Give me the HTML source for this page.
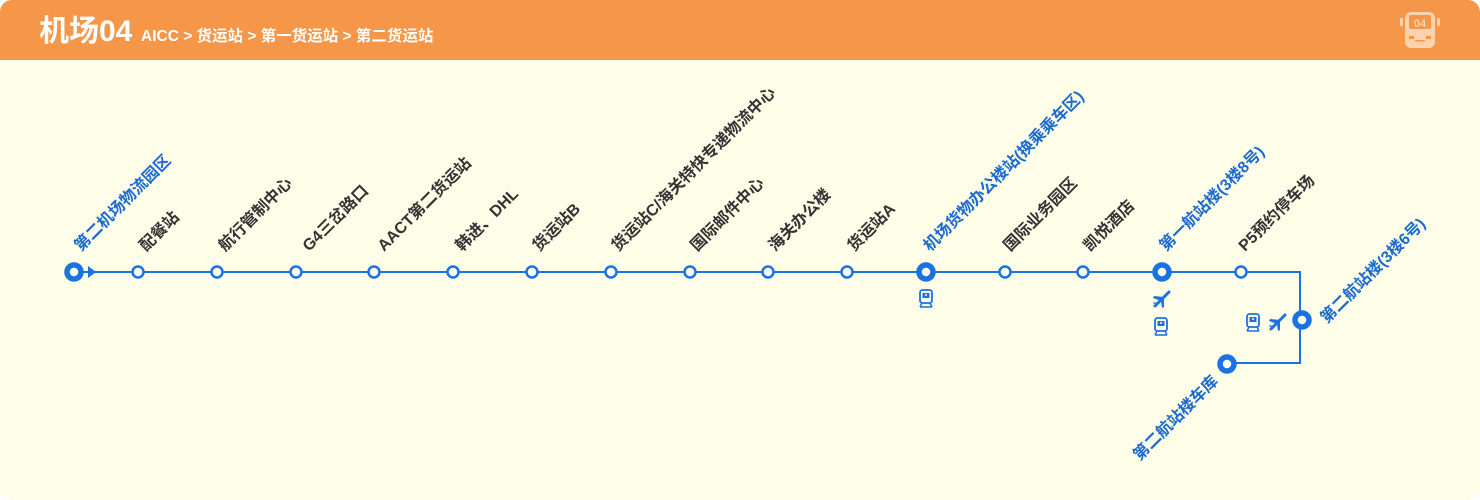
<!DOCTYPE html>
<html><head><meta charset="utf-8"><style>
body{margin:0;background:#fff;}
svg{display:block;font-family:"Liberation Sans","Noto Sans CJK SC",sans-serif;}
</style></head><body>
<svg width="1480" height="500" viewBox="0 0 1480 500" xmlns="http://www.w3.org/2000/svg">
<defs>
<g id="train"><rect x="-6" y="-8" width="12" height="13" rx="2.5" fill="none" stroke="#1a73e0" stroke-width="1.8"/><rect x="-3.5" y="-5" width="7" height="5" fill="#1a73e0"/><circle cx="0" cy="-3" r="1" fill="#fff"/><path d="M-6 9 L6 9 M-4 5 L-6 9 M4 5 L6 9" stroke="#1a73e0" stroke-width="1.5" fill="none"/></g>
<g id="plane"><path d="M7 -7 L-7 7" stroke="#1a73e0" stroke-width="3" stroke-linecap="round"/><path d="M2 -2 L-8 -3 L-9 -1 L-1 2 Z M-1 2 L0 9 L2 8 L2 -2 Z M-5 4 L-9 3 L-8 5 Z" fill="#1a73e0"/></g>
</defs>
<rect width="1480" height="500" rx="12" fill="#fefde8"/>
<path d="M0 60 V12 A12 12 0 0 1 12 0 H1468 A12 12 0 0 1 1480 12 V60 Z" fill="#f69649"/>
<text x="39" y="41" font-size="30" font-weight="bold" fill="#fff">机场04</text>
<text x="141" y="41" font-size="15.5" font-weight="bold" fill="#fff">AICC &gt; 货运站 &gt; 第一货运站 &gt; 第二货运站</text>
<g fill="#fcd3ae">
<rect x="1405" y="12" width="30" height="36" rx="6" fill="#fcd3ae"/>
<rect x="1409" y="15" width="22" height="14" rx="2" fill="#f69649"/>
<text x="1420" y="27" font-size="11" font-weight="bold" fill="#fcd3ae" text-anchor="middle">04</text>
<rect x="1400" y="18" width="3" height="8" rx="1"/><rect x="1437" y="18" width="3" height="8" rx="1"/>
<rect x="1409" y="36" width="5" height="3" fill="#f69649"/><rect x="1426" y="36" width="5" height="3" fill="#f69649"/><rect x="1415" y="40" width="10" height="1.5" fill="#f69649"/>
</g>
<g stroke="#1a73e0" stroke-width="2" fill="none">
<path d="M74 272 H1300 V363 H1227"/>
</g>
<path d="M88 266 L96 272 L88 278 Z" fill="#1a73e0"/>
<g fill="#fff" stroke="#1a73e0">
<g stroke-width="2.5">
<circle cx="138" cy="272" r="5.5"/><circle cx="217" cy="272" r="5.5"/><circle cx="296" cy="272" r="5.5"/><circle cx="374" cy="272" r="5.5"/><circle cx="453" cy="272" r="5.5"/><circle cx="532" cy="272" r="5.5"/><circle cx="611" cy="272" r="5.5"/><circle cx="690" cy="272" r="5.5"/><circle cx="768" cy="272" r="5.5"/><circle cx="847" cy="272" r="5.5"/><circle cx="1005" cy="272" r="5.5"/><circle cx="1083" cy="272" r="5.5"/><circle cx="1241" cy="272" r="5.5"/>
</g>
<g stroke-width="5.5">
<circle cx="74" cy="272" r="7"/><circle cx="926" cy="272" r="7"/><circle cx="1162" cy="272" r="7"/><circle cx="1302" cy="320" r="7"/><circle cx="1227" cy="364" r="7"/>
</g>
</g>
<use href="#train" x="926" y="298"/>
<use href="#plane" x="1162" y="299"/>
<use href="#train" x="1161" y="326"/>
<use href="#train" x="1253" y="322"/>
<use href="#plane" x="1278" y="322"/>
<g font-size="16" font-weight="bold" fill="#333">
<text transform="translate(81,252) rotate(-45)" fill="#1a6ad0">第二机场物流园区</text>
<text transform="translate(146,252) rotate(-45)">配餐站</text>
<text transform="translate(225,252) rotate(-45)">航行管制中心</text>
<text transform="translate(309,252) rotate(-45)">G4三岔路口</text>
<text transform="translate(384,252) rotate(-45)">AACT第二货运站</text>
<text transform="translate(462,252) rotate(-45)">韩进、DHL</text>
<text transform="translate(539,252) rotate(-45)">货运站B</text>
<text transform="translate(618,252) rotate(-45)">货运站C/海关特快专递物流中心</text>
<text transform="translate(697,252) rotate(-45)">国际邮件中心</text>
<text transform="translate(775,252) rotate(-45)">海关办公楼</text>
<text transform="translate(854,252) rotate(-45)">货运站A</text>
<text transform="translate(930,252) rotate(-45)" fill="#1a6ad0">机场货物办公楼站(换乘乘车区)</text>
<text transform="translate(1010,252) rotate(-45)">国际业务园区</text>
<text transform="translate(1090,252) rotate(-45)">凯悦酒店</text>
<text transform="translate(1166,252) rotate(-45)" fill="#1a6ad0">第一航站楼(3楼8号)</text>
<text transform="translate(1245,252) rotate(-45)">P5预约停车场</text>
<text transform="translate(1327,324) rotate(-45)" fill="#1a6ad0">第二航站楼(3楼6号)</text>
<text transform="translate(1219,382) rotate(-45)" fill="#1a6ad0" text-anchor="end">第二航站楼车库</text>
</g>
</svg>
</body></html>
